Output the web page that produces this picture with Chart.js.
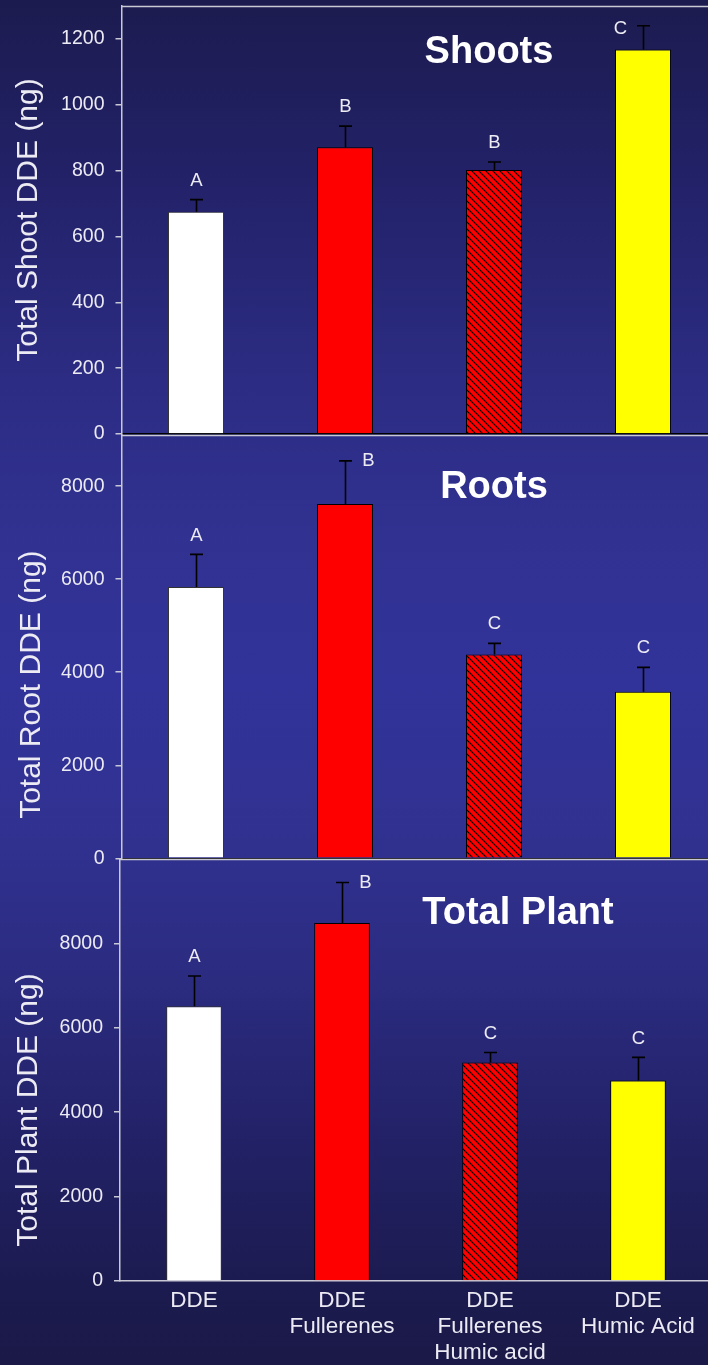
<!DOCTYPE html>
<html>
<head>
<meta charset="utf-8">
<title>DDE uptake in shoots, roots and total plant</title>
<script src="https://cdn.jsdelivr.net/npm/chart.js@4.4.1/dist/chart.umd.min.js"></script>
<style>
  html, body { margin: 0; padding: 0; overflow: hidden; background: #1b1a4e; }
  #stage {
    position: relative; width: 708px; height: 1365px; overflow: hidden;
    background: linear-gradient(to bottom,
      #1c1b4f 0%, #23226a 14%, #2c2c84 28%, #30318f 38%, #32339a 50%,
      #30318f 62%, #2b2b80 72%, #222166 84%, #1c1b50 94%, #1a1947 100%);
  }
  #stage canvas { position: absolute; left: 0; top: 0; }
</style>
</head>
<body>
<div id="stage">
  <canvas id="shoots" width="720" height="1365"></canvas>
  <canvas id="roots" width="720" height="1365"></canvas>
  <canvas id="plant" width="720" height="1365"></canvas>
</div>
<script>
// Treatments (multi-line category labels)
const categories = [
  ['DDE'],
  ['DDE', 'Fullerenes'],
  ['DDE', 'Fullerenes', 'Humic acid'],
  ['DDE', 'Humic Acid']
];

// Total shoot DDE (ng): means, upper error, significance letters
const shootMeans   = [675, 871, 802, 1168];
const shootErrors  = [37, 64, 24, 72];
const shootLetters = ['A', 'B', 'B', 'C'];
const shootTicks   = [0, 200, 400, 600, 800, 1000, 1200];

// Total root DDE (ng)
const rootMeans   = [5830, 7617, 4383, 3580];
const rootErrors  = [703, 926, 237, 524];
const rootLetters = ['A', 'B', 'C', 'C'];
const rootTicks   = [0, 2000, 4000, 6000, 8000];

// Total plant DDE (ng)
const plantMeans   = [6510, 8482, 5180, 4753];
const plantErrors  = [719, 960, 235, 545];
const plantLetters = ['A', 'B', 'C', 'C'];
const plantTicks   = [0, 2000, 4000, 6000, 8000];

const FONT = '"Liberation Sans", Arial, Helvetica, sans-serif';
const TEXT = '#ecebf4';
const FRAME = '#c9c9d6';
const CANVAS_W = 720, CANVAS_H = 1365;

// Red fill with black "\" hatching for the combined treatment
function hatchPattern() {
  const s = 7;
  const c = document.createElement('canvas');
  c.width = s; c.height = s;
  const g = c.getContext('2d');
  g.fillStyle = '#ff0000';
  g.fillRect(0, 0, s, s);
  g.strokeStyle = '#000000';
  g.lineWidth = 1.2;
  g.beginPath();
  g.moveTo(-1, -1); g.lineTo(s + 1, s + 1);
  g.moveTo(-1, s - 1); g.lineTo(1, s + 1);
  g.moveTo(s - 1, -1); g.lineTo(s + 1, 1);
  g.stroke();
  return g.createPattern(c, 'repeat');
}
const hatch = hatchPattern();
const barFills = ['#ffffff', '#ff0000', hatch, '#ffff00'];
const barEdges = ['#333333', '#000000', '#000000', '#000000'];

// Error bars, letters, frame top line, panel title and y-axis title
const panelDecor = {
  id: 'panelDecor',
  afterDatasetsDraw(chart, args, o) {
    const ctx = chart.ctx;
    const area = chart.chartArea;
    const yScale = chart.scales.y;
    const meta = chart.getDatasetMeta(0);
    const values = chart.data.datasets[0].data;
    ctx.save();
    // frame line along the top of the plot
    ctx.strokeStyle = FRAME;
    ctx.lineWidth = 1.5;
    ctx.beginPath();
    ctx.moveTo(area.left, area.top + 0.5);
    ctx.lineTo(area.right, area.top + 0.5);
    ctx.stroke();

    meta.data.forEach((bar, i) => {
      const x = Math.round(bar.x) + 0.5;
      const yBar = yScale.getPixelForValue(values[i]);
      const yCap = yScale.getPixelForValue(values[i] + o.errors[i]);
      ctx.strokeStyle = '#000000';
      ctx.lineWidth = 1.6;
      ctx.beginPath();
      ctx.moveTo(x, yBar);
      ctx.lineTo(x, yCap);
      ctx.moveTo(x - 6.5, yCap);
      ctx.lineTo(x + 6.5, yCap);
      ctx.stroke();

      ctx.fillStyle = TEXT;
      ctx.font = '18.5px ' + FONT;
      ctx.textBaseline = 'middle';
      ctx.textAlign = 'center';
      const side = o.placement[i];
      let lx = x, ly = yCap - 19;
      if (side === 'left') { lx = x - 23; ly = yCap + 3; }
      if (side === 'right') { lx = x + 23; ly = yCap; }
      ctx.fillText(o.letters[i], lx, ly);
    });
    ctx.restore();
  },
  afterDraw(chart, args, o) {
    const ctx = chart.ctx;
    const area = chart.chartArea;
    ctx.save();
    ctx.fillStyle = '#ffffff';
    ctx.font = 'bold 38px ' + FONT;
    ctx.textAlign = 'center';
    ctx.textBaseline = 'middle';
    ctx.fillText(o.title, o.titleX, o.titleY);

    ctx.fillStyle = TEXT;
    ctx.font = '30px ' + FONT;
    ctx.textBaseline = 'alphabetic';
    ctx.translate(o.axisTitleX, (area.top + area.bottom) / 2 + o.axisTitleShift);
    ctx.rotate(-Math.PI / 2);
    ctx.fillText(o.axisTitle, 0, 0);
    ctx.restore();
  }
};

function makePanel(id, p) {
  return new Chart(document.getElementById(id), {
    type: 'bar',
    data: {
      labels: categories,
      datasets: [{
        data: p.means,
        backgroundColor: barFills,
        borderColor: barEdges,
        borderWidth: 1,
        borderSkipped: 'start',
        barPercentage: 0.376,
        categoryPercentage: 1
      }]
    },
    options: {
      responsive: false,
      animation: false,
      devicePixelRatio: 1,
      layout: {
        padding: {
          left: 0,
          right: CANVAS_W - p.right,
          top: p.top,
          bottom: CANVAS_H - p.bottom - p.xHeight
        }
      },
      plugins: {
        legend: { display: false },
        tooltip: { enabled: false },
        panelDecor: {
          errors: p.errors,
          letters: p.letters,
          placement: p.placement,
          title: p.title,
          titleX: p.titleX,
          titleY: p.titleY,
          axisTitle: p.axisTitle,
          axisTitleX: p.axisTitleX,
          axisTitleShift: p.axisTitleShift
        }
      },
      scales: {
        x: {
          offset: true,
          grid: { display: false, drawTicks: false },
          border: { display: true, color: p.baseColor, width: 1.5 },
          ticks: {
            display: p.showLabels,
            color: TEXT,
            font: { family: FONT, size: 22.5, lineHeight: '26px' },
            padding: 7,
            maxRotation: 0,
            autoSkip: false
          },
          afterFit(s) { s.height = p.xHeight; s.paddingLeft = 0; s.paddingRight = 0; }
        },
        y: {
          min: 0,
          max: p.yMax,
          afterBuildTicks(s) { s.ticks = p.ticks.map(v => ({ value: v })); },
          grid: { display: true, drawOnChartArea: false, drawTicks: true, tickLength: 6, color: FRAME, lineWidth: 1.5 },
          border: { display: true, color: FRAME, width: 1.5 },
          ticks: {
            color: TEXT,
            font: { family: FONT, size: 19.5 },
            padding: 11,
            callback: v => String(v)
          },
          afterFit(s) { s.width = p.left; s.paddingTop = 0; s.paddingBottom = 0; }
        }
      }
    },
    plugins: [panelDecor]
  });
}

makePanel('shoots', {
  means: shootMeans, errors: shootErrors, letters: shootLetters, ticks: shootTicks,
  placement: ['above', 'above', 'above', 'left'],
  yMax: 1300, top: 6, bottom: 434, left: 121.5, right: 717.5, xHeight: 0,
  showLabels: false, baseColor: '#000000',
  title: 'Shoots', titleX: 489, titleY: 53,
  axisTitle: 'Total Shoot DDE (ng)', axisTitleX: 36.5, axisTitleShift: 0
});

makePanel('roots', {
  means: rootMeans, errors: rootErrors, letters: rootLetters, ticks: rootTicks,
  placement: ['above', 'right', 'above', 'above'],
  yMax: 9100, top: 435, bottom: 858.3, left: 121.5, right: 717.5, xHeight: 0,
  showLabels: false, baseColor: '#000000',
  title: 'Roots', titleX: 494, titleY: 488,
  axisTitle: 'Total Root DDE (ng)', axisTitleX: 40, axisTitleShift: 38
});

makePanel('plant', {
  means: plantMeans, errors: plantErrors, letters: plantLetters, ticks: plantTicks,
  placement: ['above', 'right', 'above', 'above'],
  yMax: 10000, top: 859, bottom: 1281, left: 120, right: 712, xHeight: 84,
  showLabels: true, baseColor: FRAME,
  title: 'Total Plant', titleX: 518, titleY: 914,
  axisTitle: 'Total Plant DDE (ng)', axisTitleX: 36.5, axisTitleShift: 40
});
</script>
</body>
</html>
